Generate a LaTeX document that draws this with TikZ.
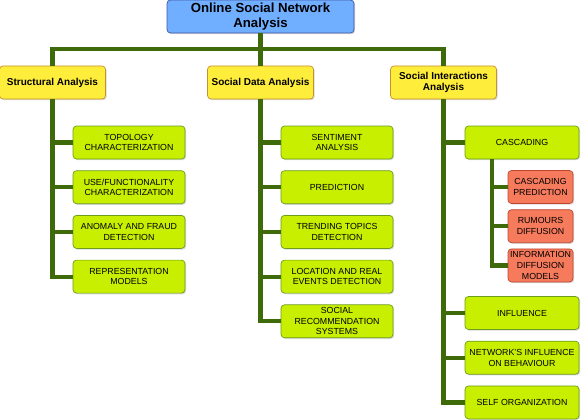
\documentclass[tikz,border=0pt]{standalone}
\usepackage{fontspec}
\setmainfont{Liberation Sans}
\usetikzlibrary{positioning}
\usetikzlibrary{shadows}

\definecolor{headfill}{RGB}{112,174,255}
\definecolor{headline}{RGB}{62,84,160}
\definecolor{areafill}{RGB}{255,237,60}
\definecolor{arealine}{RGB}{196,146,48}
\definecolor{taskfill}{RGB}{200,238,0}
\definecolor{taskline}{RGB}{108,158,28}
\definecolor{subfill}{RGB}{246,122,92}
\definecolor{subline}{RGB}{190,70,48}
\definecolor{linkgreen}{RGB}{62,106,10}

\tikzset {
  tree node/.style = {
    draw,
    rounded corners = 3.5pt,
    line width = 0.7pt,
    align = center,
    inner xsep = 1.5pt,
    inner ysep = 1pt,
    minimum height = 33pt,
    drop shadow = {shadow xshift = 1.2pt, shadow yshift = -1.2pt, opacity = 0.3}
  },
  % top of the tree
  head box/.style = {
    tree node,
    fill = headfill,
    draw = headline,
    minimum width = 187pt,
    font = \fontsize{13.2}{15}\selectfont\bfseries
  },
  % the three analysis areas
  area box/.style = {
    tree node,
    fill = areafill,
    draw = arealine,
    minimum width = 106pt,
    font = \fontsize{10}{11.8}\selectfont\bfseries
  },
  task box/.style = {
    tree node,
    fill = taskfill,
    draw = taskline,
    minimum width = 112pt,
    font = \fontsize{8.8}{10.6}\selectfont
  },
  sub box/.style = {
    task box,
    fill = subfill,
    draw = subline,
    minimum width = 65pt
  },
  link/.style = {
    draw = linkgreen,
    line width = 4.2pt
  },
  node distance = 11pt
}

\begin{document}
\begin{tikzpicture}[x=1pt, y=-1pt]
    \useasboundingbox (0,0) rectangle (581,420);

    \node[head box] (osna) at (260.5,16.5) {Online Social Network\\Analysis};
    \coordinate (bar) at (260.5,49);

    \node[area box] (structural) at (52.5,82.5) {Structural Analysis};
    \node[area box] (social-data) at (260.5,82.5) {Social Data Analysis};
    \node[area box] (interactions) at (443.5,82.5) {Social Interactions\\Analysis};

    % structural analysis
    \node[task box] (topology) at (129,142.5) {TOPOLOGY\\CHARACTERIZATION};
    \node[task box] (use-func) [below=of topology] {USE/FUNCTIONALITY\\CHARACTERIZATION};
    \node[task box] (anomaly) [below=of use-func] {ANOMALY AND FRAUD\\DETECTION};
    \node[task box] (representation) [below=of anomaly] {REPRESENTATION\\MODELS};

    % social data analysis
    \node[task box] (sentiment) at (337,142.5) {SENTIMENT\\ANALYSIS};
    \node[task box] (prediction) [below=of sentiment] {PREDICTION};
    \node[task box] (trending) [below=of prediction] {TRENDING TOPICS\\DETECTION};
    \node[task box] (location) [below=of trending] {LOCATION AND REAL\\EVENTS DETECTION};
    \node[task box] (recommendation) [below=of location] {SOCIAL\\RECOMMENDATION\\SYSTEMS};

    % social interactions analysis
    \node[task box, minimum width=114pt] (cascading) at (522,142.5) {CASCADING};
    \node[sub box] (casc-prediction) at (540.5,187) {CASCADING\\PREDICTION};
    \node[sub box] (rumours) [below=5.5pt of casc-prediction] {RUMOURS\\DIFFUSION};
    \node[sub box] (info-diffusion) [below=5.5pt of rumours] {INFORMATION\\DIFFUSION\\MODELS};
    \path (cascading.south west) ++(27,0) coordinate (cascading-stem);
    \node[task box, minimum width=114pt] (influence) at (522,313) {INFLUENCE};
    \node[task box, minimum width=114pt] (behaviour) [below=of influence] {NETWORK'S INFLUENCE\\ON BEHAVIOUR};
    \node[task box, minimum width=114pt] (self-org) [below=of behaviour] {SELF ORGANIZATION};

    \draw[link] (osna) -- (social-data);
    \draw[link] (structural.north) |- (bar) -| (interactions.north);

    \draw[link] (structural.south) |- (topology.west);
    \draw[link] (structural.south) |- (use-func.west);
    \draw[link] (structural.south) |- (anomaly.west);
    \draw[link] (structural.south) |- (representation.west);

    \draw[link] (social-data.south) |- (sentiment.west);
    \draw[link] (social-data.south) |- (prediction.west);
    \draw[link] (social-data.south) |- (trending.west);
    \draw[link] (social-data.south) |- (location.west);
    \draw[link] (social-data.south) |- (recommendation.west);

    \draw[link] (interactions.south) |- (cascading.west);
    \draw[link] (interactions.south) |- (influence.west);
    \draw[link] (interactions.south) |- (behaviour.west);
    \draw[link] (interactions.south) |- (self-org.west);

    \draw[link] (cascading-stem) |- (casc-prediction.west);
    \draw[link] (cascading-stem) |- (rumours.west);
    \draw[link] (cascading-stem) |- (info-diffusion.west);
\end{tikzpicture}
\end{document}
